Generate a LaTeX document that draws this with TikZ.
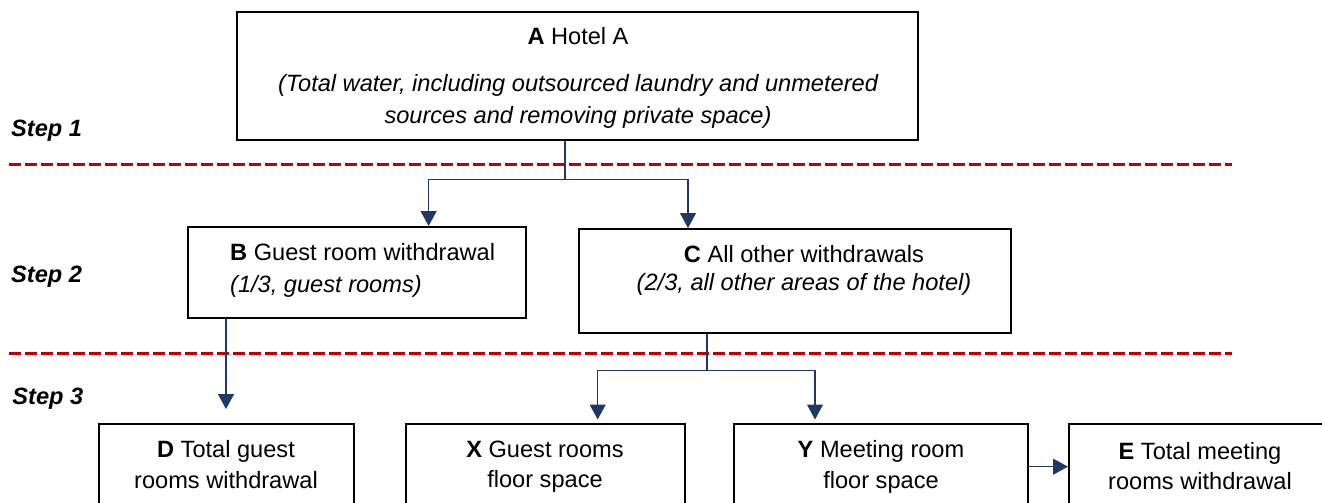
\documentclass[tikz,border=0pt]{standalone}
\usepackage{fontspec}
\setmainfont{Liberation Sans}
\usetikzlibrary{arrows.meta}
\definecolor{navy}{HTML}{203864}
\definecolor{dashred}{HTML}{C00000}
\tikzset{
  box/.style={draw=black, line width=2pt, rectangle, inner sep=0pt},
  txt/.style={inner sep=0pt, anchor=base, font=\fontsize{23.6}{28}\selectfont},
  steplabel/.style={inner sep=0pt, anchor=base west, font=\fontsize{23.6}{28}\selectfont\bfseries\itshape},
  conn/.style={draw=navy, line width=1.3pt, -{Triangle[length=15pt,width=16pt]}},
  sepline/.style={draw=dashred, line width=3.5pt, dash pattern=on 12pt off 4pt},
}
\begin{document}
\begin{tikzpicture}[x=1pt,y=-1pt]
\useasboundingbox (0,0) rectangle (1322,503);
\clip (0,0) rectangle (1322,503);

% separators
\draw[sepline] (9,164.3) -- (1232,164.3);
\draw[sepline] (9,353.3) -- (1232,353.3);

% step labels
\node[steplabel] (s1) at (11,136) {Step 1};
\node[steplabel] (s2) at (11,282.7) {Step 2};
\node[steplabel] (s3) at (12.3,404.3) {Step 3};

% boxes
\node[box, minimum width=681pt, minimum height=128pt] (A) at (577.5,76) {};
\node[box, minimum width=338pt, minimum height=91pt] (B) at (357,272.5) {};
\node[box, minimum width=432pt, minimum height=104pt] (C) at (795,281) {};
\node[box, minimum width=255pt, minimum height=106pt] (D) at (226,477) {};
\node[box, minimum width=279pt, minimum height=106pt] (X) at (545.5,477) {};
\node[box, minimum width=294pt, minimum height=106pt] (Y) at (881,477) {};
\node[box, minimum width=262pt, minimum height=106pt] (E) at (1200,477) {};

% texts
\node[txt] (A1) at (578,44.5) {\textbf{A} Hotel A};
\node[txt] (A2) at (578,92) {\itshape (Total water, including outsourced laundry and unmetered};
\node[txt] (A3) at (578,123.5) {\itshape sources and removing private space)};
\node[txt, anchor=base west] (B1) at (230,260) {\textbf{B} Guest room withdrawal};
\node[txt, anchor=base west] (B2) at (230,292) {\itshape (1/3, guest rooms)};
\node[txt] (C1) at (804,262) {\textbf{C} All other withdrawals};
\node[txt] (C2) at (804,290) {\itshape (2/3, all other areas of the hotel)};
\node[txt] (D1) at (226,457) {\textbf{D} Total guest};
\node[txt] (D2) at (226,488) {rooms withdrawal};
\node[txt] (X1) at (545,457) {\textbf{X} Guest rooms};
\node[txt] (X2) at (545,487) {floor space};
\node[txt] (Y1) at (881,457) {\textbf{Y} Meeting room};
\node[txt] (Y2) at (881,488) {floor space};
\node[txt] (E1) at (1200,459) {\textbf{E} Total meeting};
\node[txt] (E2) at (1200,489) {rooms withdrawal};

% junction coordinates
\coordinate (j1) at (565,179.5);
\coordinate (tB) at (428.6,0);
\coordinate (tC) at (688,0);
\coordinate (j2) at (707,370.7);
\coordinate (tX) at (597.7,0);
\coordinate (tY) at (815,0);
\coordinate (jE) at (0,466.7);

% connectors
\draw[conn] (A.south -| j1) -- (j1) -| (B.north -| tB);
\draw[conn] (j1) -| (C.north -| tC);
\draw[conn, shorten >=14pt] (B.south -| D.north) -- (D.north);
\draw[conn, shorten >=3.5pt] (C.south -| j2) -- (j2) -| (X.north -| tX);
\draw[conn, shorten >=3.5pt] (j2) -| (Y.north -| tY);
\draw[conn] (Y.east |- jE) -- (E.west |- jE);
\end{tikzpicture}
\end{document}
